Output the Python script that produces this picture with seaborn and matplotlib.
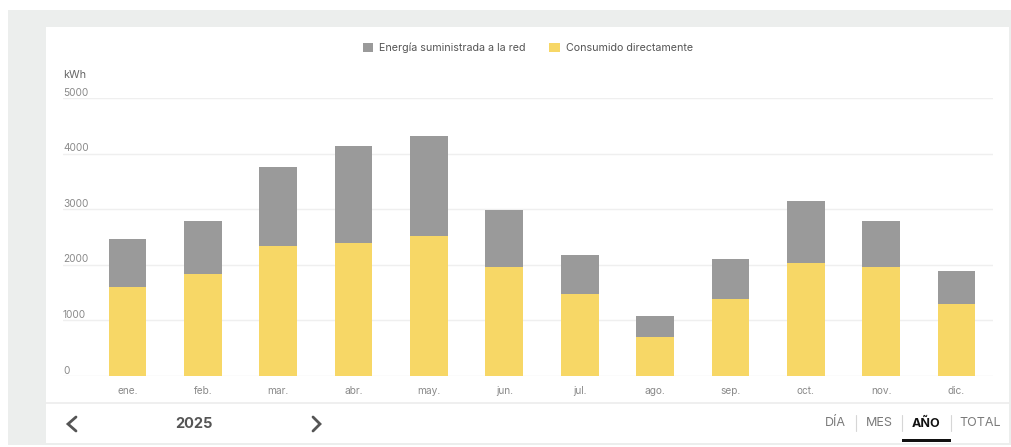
import matplotlib
matplotlib.use("Agg")
import matplotlib.pyplot as plt
import matplotlib.transforms as mtransforms
from matplotlib.patches import Rectangle
from matplotlib.lines import Line2D
import numpy as np
import pandas as pd
import seaborn as sns

# Monthly energy for 2025 (kWh)
meses = ["ene.", "feb.", "mar.", "abr.", "may.", "jun.",
         "jul.", "ago.", "sep.", "oct.", "nov.", "dic."]
consumido = [1600, 1830, 2340, 2400, 2510, 1960, 1470, 700, 1390, 2040, 1960, 1300]
suministrada = [860, 960, 1420, 1740, 1810, 1030, 700, 380, 720, 1100, 830, 590]
y_ticks = [0, 1000, 2000, 3000, 4000, 5000]
anio = "2025"
periodos = ["DÍA", "MES", "AÑO", "TOTAL"]

serie_red = "Energía suministrada a la red"
serie_directo = "Consumido directamente"

COLOR_RED = "#9a9a9a"
COLOR_DIRECTO = "#f7d766"
BG = "#eceeed"

sns.set_theme(style="white")
plt.rcParams["font.family"] = ["Inter", "DejaVu Sans"]

W, H = 1011, 447
fig = plt.figure(figsize=(W / 100, H / 100), dpi=100)
fig.patch.set_facecolor("white")


def fx(px):
    return px / W


def fy(py):
    return 1 - py / H


# Page background and white card
fig.add_artist(Rectangle((fx(8), fy(445)), fx(1011 - 8), (445 - 10) / H,
                         transform=fig.transFigure, facecolor=BG, edgecolor="none", zorder=0))
fig.add_artist(Rectangle((fx(46), fy(443)), fx(1009 - 46), (443 - 27) / H,
                         transform=fig.transFigure, facecolor="white", edgecolor="none", zorder=0.5))
# Divider between the chart and the footer controls
fig.add_artist(Line2D([fx(46), fx(1009)], [fy(403), fy(403)], transform=fig.transFigure,
                      color="#ececec", lw=1.2, zorder=1))

df = pd.DataFrame({
    "mes": meses,
    "directo": consumido,
    "total": np.array(consumido) + np.array(suministrada),
})

ax = fig.add_axes([fx(63), fy(376), fx(993 - 63), (376 - 98) / H])
ax.set_facecolor("none")
ax.set_zorder(2)

sns.barplot(data=df, x="mes", y="total", color=COLOR_RED, width=0.5,
            saturation=1, label=serie_red, ax=ax, zorder=3, linewidth=0, edgecolor="none")
sns.barplot(data=df, x="mes", y="directo", color=COLOR_DIRECTO, width=0.5,
            saturation=1, label=serie_directo, ax=ax, zorder=3, linewidth=0, edgecolor="none")

ax.set_xlim(-0.855, 11.484)
ax.set_ylim(0, 5000)
ax.set_xlabel("")
ax.set_ylabel("")
for s in ax.spines.values():
    s.set_visible(False)

ax.set_yticks(y_ticks)
ax.set_yticklabels([])
ax.tick_params(axis="y", length=0)
ax.yaxis.grid(True, color="#efefef", lw=1)
ax.set_axisbelow(True)

ax.tick_params(axis="x", length=4, width=0.8, color="#e4e4e4", pad=3,
               labelsize=7.3, labelcolor="#8a8a8a")

# Value labels sit just above each gridline, left aligned
lab_tr = mtransforms.offset_copy(ax.get_yaxis_transform(), fig=fig, x=0, y=5.5, units="dots")
for v in y_ticks:
    ax.text(0, v, str(v), transform=lab_tr, ha="left", va="center",
            fontsize=7.3, color="#8a8a8a")

fig.text(fx(63), fy(75), "kWh", ha="left", va="center", fontsize=7.8, color="#666666")

leg = ax.legend(loc="center", bbox_to_anchor=(fx(528), fy(48)),
                bbox_transform=fig.transFigure, ncol=2, frameon=False,
                fontsize=7.7, handlelength=0.95, handleheight=0.9,
                handletextpad=0.6, columnspacing=2.2, borderaxespad=0)
for t in leg.get_texts():
    t.set_color("#555555")

# Footer: year navigation
for pts in ([(76, 417), (68, 424), (76, 431)], [(313, 417), (320, 424), (313, 431)]):
    xs = [fx(p[0]) for p in pts]
    ys = [fy(p[1]) for p in pts]
    fig.add_artist(Line2D(xs, ys, transform=fig.transFigure, color="#555555",
                          lw=2, solid_capstyle="round", solid_joinstyle="miter", zorder=3))
fig.text(fx(194), fy(423.5), anio, ha="center", va="center", fontsize=10.5,
         fontweight="bold", color="#555555")

# Footer: period selector
cx = [835, 879, 926, 980]
for lbl, x in zip(periodos, cx):
    activo = lbl == "AÑO"
    fig.text(fx(x), fy(423.5), lbl, ha="center", va="center", fontsize=9,
             fontweight="bold" if activo else "normal",
             color="#111111" if activo else "#7a7a7a")
for x in [856, 902, 951]:
    fig.add_artist(Line2D([fx(x), fx(x)], [fy(415), fy(431)], transform=fig.transFigure,
                          color="#d6d6d6", lw=0.8, zorder=3))
fig.add_artist(Rectangle((fx(902), fy(442)), fx(49), 3 / H, transform=fig.transFigure,
                         facecolor="#111111", edgecolor="none", zorder=3))

fig.savefig("out.png", dpi=100)
